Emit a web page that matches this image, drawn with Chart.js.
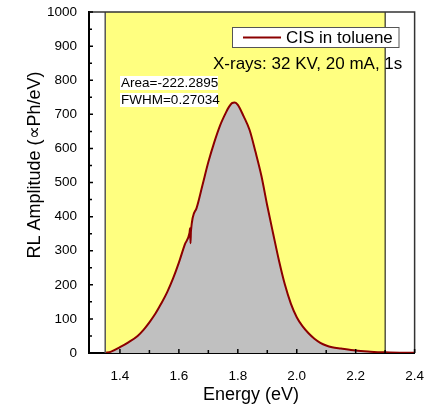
<!DOCTYPE html>
<html>
<head>
<meta charset="utf-8">
<script src="https://cdn.jsdelivr.net/npm/chart.js@4/dist/chart.umd.min.js"></script>
<style>
  html, body { margin: 0; padding: 0; background: #fff; }
  #wrap { width: 431px; height: 408px; position: relative; }
</style>
</head>
<body>
<div id="wrap"><canvas id="rl-chart"></canvas></div>
<script>
// Spectrum
const energy = [
  1.35, 1.37, 1.40, 1.43, 1.46, 1.48, 1.50, 1.52, 1.54, 1.56, 1.58, 1.60, 1.62,
  1.636, 1.638, 1.6395, 1.641, 1.66, 1.68, 1.70, 1.72, 1.74, 1.76, 1.77, 1.78,
  1.79, 1.80, 1.82, 1.84, 1.86, 1.88, 1.90, 1.92, 1.94, 1.96, 1.98, 2.00, 2.02,
  2.04, 2.06, 2.08, 2.10, 2.12, 2.15, 2.20, 2.25, 2.30, 2.35, 2.40
];
const amplitude = [
  0, 4, 17, 32, 50, 68, 90, 115, 145, 178, 218, 265, 318,
  352, 366, 322, 358, 425, 492, 560, 618, 668, 706, 722, 733,
  735, 728, 694, 654, 590, 520, 432, 350, 270, 200, 145, 105, 78,
  58, 42, 30, 22, 17, 13, 7, 4, 2, 1, 1
];

const xTicks = [1.4, 1.6, 1.8, 2.0, 2.2, 2.4];
const xMinorTicks = [1.5, 1.7, 1.9, 2.1, 2.3];
const yTicks = [0, 100, 200, 300, 400, 500, 600, 700, 800, 900, 1000];
const yMinorTicks = [50, 150, 250, 350, 450, 550, 650, 750, 850, 950];
const bandRange = [1.35, 2.3];

const seriesLabel = 'CIS in toluene';
const conditionsText = 'X-rays: 32 KV, 20 mA, 1s';
const areaText = 'Area=-222.2895';
const fwhmText = 'FWHM=0.27034';
const xTitle = 'Energy (eV)';
const yTitle = 'RL Amplitude (\u221DPh/eV)';

const fontFamily = '"Liberation Sans", Arial, sans-serif';
const lineColor = '#8B0000';

const ctx = document.getElementById('rl-chart');

// yellow window behind the spectrum
const bandPlugin = {
  id: 'band',
  beforeDatasetsDraw(c) {
    const { ctx: g, chartArea: a, scales: { x } } = c;
    const x0 = x.getPixelForValue(bandRange[0]);
    const x1 = x.getPixelForValue(bandRange[1]);
    g.save();
    g.fillStyle = '#FFFF80';
    g.fillRect(x0, a.top, x1 - x0, a.bottom - a.top);
    g.restore();
  },
};

// frame, inward ticks, legend, notes and titles
const decorPlugin = {
  id: 'decor',
  afterDraw(c) {
    const { ctx: g, chartArea: a, scales: { x, y } } = c;
    g.save();

    // band edges
    const x0 = x.getPixelForValue(bandRange[0]);
    const x1 = x.getPixelForValue(bandRange[1]);
    g.lineWidth = 1.5;
    g.strokeStyle = '#555';
    g.beginPath(); g.moveTo(x0, a.top); g.lineTo(x0, a.bottom); g.stroke();
    g.lineWidth = 1;
    g.strokeStyle = '#000';
    g.beginPath(); g.moveTo(x1, a.top); g.lineTo(x1, a.bottom); g.stroke();

    // top / right frame
    g.strokeStyle = '#333';
    g.lineWidth = 1.5;
    g.beginPath();
    g.moveTo(a.left, a.top); g.lineTo(a.right, a.top); g.lineTo(a.right, a.bottom);
    g.stroke();

    // inward ticks
    g.strokeStyle = '#000';
    g.lineWidth = 1.5;
    g.beginPath();
    xTicks.forEach(v => { const px = x.getPixelForValue(v); g.moveTo(px, a.bottom); g.lineTo(px, a.bottom - 4); });
    xMinorTicks.forEach(v => { const px = x.getPixelForValue(v); g.moveTo(px, a.bottom); g.lineTo(px, a.bottom - 3); });
    yTicks.forEach(v => { const py = y.getPixelForValue(v); g.moveTo(a.left, py); g.lineTo(a.left + 4, py); });
    yMinorTicks.forEach(v => { const py = y.getPixelForValue(v); g.moveTo(a.left, py); g.lineTo(a.left + 3, py); });
    g.stroke();

    // legend box
    g.fillStyle = '#fff';
    g.fillRect(232.5, 27, 166.5, 20);
    g.strokeStyle = '#555';
    g.lineWidth = 1;
    g.strokeRect(232.5, 27.5, 166.5, 20);
    g.strokeStyle = lineColor;
    g.lineWidth = 2;
    g.beginPath(); g.moveTo(243, 37.5); g.lineTo(281, 37.5); g.stroke();
    g.fillStyle = '#000';
    g.font = '17px ' + fontFamily;
    g.textBaseline = 'middle';
    g.textAlign = 'left';
    g.fillText(seriesLabel, 286, 38);

    // conditions
    g.fillText(conditionsText, 213, 64);

    // fit notes
    g.font = '13.5px ' + fontFamily;
    g.fillStyle = '#fff';
    g.fillRect(120, 76, 98, 14);
    g.fillRect(120, 93, 98, 14);
    g.fillStyle = '#000';
    g.fillText(areaText, 121, 83.5);
    g.fillText(fwhmText, 121, 100.5);

    // axis titles
    g.font = '18px ' + fontFamily;
    g.textAlign = 'center';
    g.fillText(xTitle, 251, 395);
    g.translate(35, 165);
    g.rotate(-Math.PI / 2);
    g.fillText(yTitle, 0, 0);

    g.restore();
  },
};

new Chart(ctx, {
  type: 'line',
  data: {
    datasets: [{
      label: seriesLabel,
      data: energy.map((e, i) => ({ x: e, y: amplitude[i] })),
      borderColor: lineColor,
      borderWidth: 2,
      backgroundColor: '#C0C0C0',
      fill: 'origin',
      pointRadius: 0,
      cubicInterpolationMode: 'monotone',
    }],
  },
  options: {
    responsive: true,
    maintainAspectRatio: false,
    animation: false,
    layout: {
      padding: { top: 11, right: 16, left: 0, bottom: 0 },
    },
    scales: {
      x: {
        type: 'linear',
        min: 1.295,
        max: 2.4,
        afterBuildTicks: (s) => { s.ticks = xTicks.map(v => ({ value: v })); },
        afterFit: (s) => { s.height = 55; },
        grid: { display: false },
        border: { display: true, color: '#000', width: 2 },
        ticks: {
          color: '#000',
          padding: 7,
          font: { family: fontFamily, size: 13.5 },
          callback: (v) => Number(v).toFixed(1),
        },
      },
      y: {
        min: 0,
        max: 1000,
        afterBuildTicks: (s) => { s.ticks = yTicks.map(v => ({ value: v })); },
        afterFit: (s) => { s.width = 89; },
        grid: { display: false },
        border: { display: true, color: '#000', width: 2 },
        ticks: {
          color: '#000',
          padding: 4,
          font: { family: fontFamily, size: 13.5 },
          callback: (v) => String(v),
        },
      },
    },
    plugins: {
      legend: { display: false },
      tooltip: { enabled: false },
    },
  },
  plugins: [bandPlugin, decorPlugin],
});
</script>
</body>
</html>
